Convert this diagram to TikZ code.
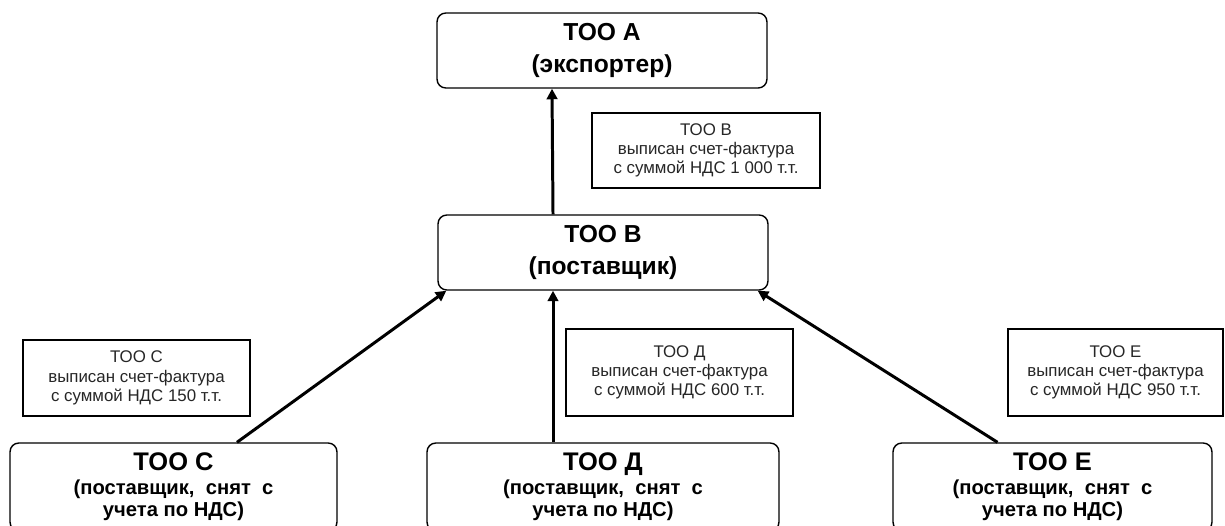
\documentclass[tikz,border=0pt]{standalone}
\usepackage{fontspec}
\setmainfont{Liberation Sans}
\usetikzlibrary{arrows.meta}
\begin{document}
\begin{tikzpicture}[x=0.02cm,y=-0.02cm,
    firm/.style={draw,rounded corners=5pt,line width=0.8pt,align=center,inner sep=0pt},
    lowfirm/.style={firm,minimum height=1.76cm,font=\fontsize{11.5}{12.5}\selectfont\bfseries},
    note/.style={draw,line width=0.7pt,align=center,inner sep=0pt,text=black!85,font=\fontsize{9.6}{10.9}\selectfont},
    flow/.style={line width=1.7pt,-{Triangle[length=6pt,width=6pt]}}]
\clip (0,0) rectangle (1225,525);
\fill[white] (0,0) rectangle (1225,525);
% companies
\node[firm,minimum width=6.6cm,minimum height=1.5cm,font=\fontsize{14}{18}\selectfont\bfseries] (tooA) at (602,50.5) {ТОО А\\(экспортер)};
\node[firm,minimum width=6.6cm,minimum height=1.5cm,font=\fontsize{14}{18}\selectfont\bfseries] (tooB) at (603,252.5) {ТОО В\\(поставщик)};
\node[lowfirm,minimum width=6.54cm] (tooC) at (173.5,487) {{\fontsize{14.5}{16}\selectfont ТОО С}\\[1pt](поставщик,\ \ снят\ \ с\\учета по НДС)};
\node[lowfirm,minimum width=7.04cm] (tooD) at (603,487) {{\fontsize{14.5}{16}\selectfont ТОО Д}\\[1pt](поставщик,\ \ снят\ \ с\\учета по НДС)};
\node[lowfirm,minimum width=6.38cm] (tooE) at (1052.5,487) {{\fontsize{14.5}{16}\selectfont ТОО Е}\\[1pt](поставщик,\ \ снят\ \ с\\учета по НДС)};
% invoices
\node[note,minimum width=4.56cm,minimum height=1.5cm] (noteB) at (706,150.5) {ТОО В\\выписан счет-фактура\\с суммой НДС 1 000 т.т.};
\node[note,minimum width=4.54cm,minimum height=1.52cm] (noteC) at (136.5,378) {ТОО С\\выписан счет-фактура\\с суммой НДС 150 т.т.};
\node[note,minimum width=4.54cm,minimum height=1.74cm] (noteD) at (679.5,372.5) {ТОО Д\\выписан счет-фактура\\с суммой НДС 600 т.т.};
\node[note,minimum width=4.3cm,minimum height=1.74cm] (noteE) at (1115.5,372.5) {ТОО Е\\выписан счет-фактура\\с суммой НДС 950 т.т.};
% arrows
\draw[flow] ([xshift=-1cm]tooB.north) -- ([xshift=-1cm]tooA.south);
\draw[flow] ([xshift=1.27cm]tooC.north) -- ([xshift=0.18cm]tooB.south west);
\draw[flow] ([xshift=-1cm]tooD.north) -- ([xshift=-1cm]tooB.south);
\draw[flow] ([xshift=-1.1cm]tooE.north) -- ([xshift=-0.22cm]tooB.south east);
\end{tikzpicture}
\end{document}
